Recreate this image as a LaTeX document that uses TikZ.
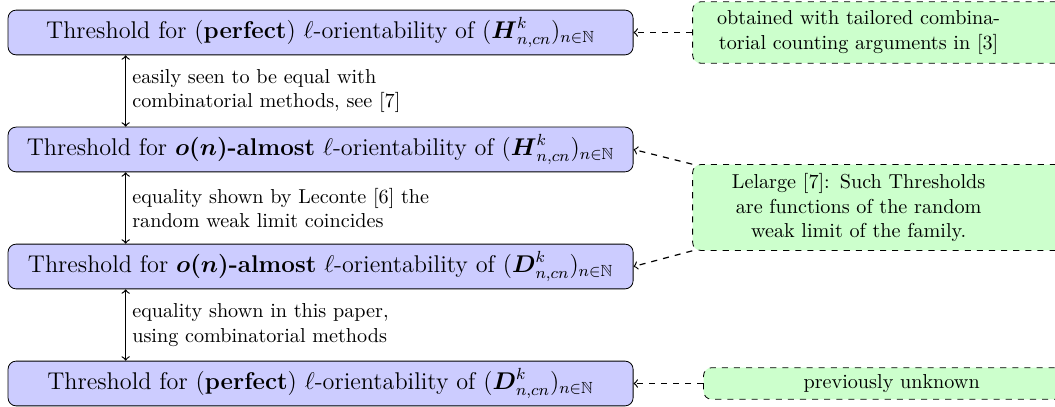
\documentclass[tikz,border=0pt]{standalone}
\usepackage{amsmath}
\usepackage{amssymb}
\usepackage{tikz}
\usetikzlibrary{positioning}

\begin{document}
\begin{tikzpicture}[
  thr/.style={draw, rounded corners=4pt, fill=blue!20, minimum width=10.89cm, minimum height=0.78cm, inner sep=3pt, font=\large},
  note/.style={draw, dashed, rounded corners=4pt, fill=green!20, anchor=west, text width=7.5cm, align=left},
  eq/.style={<->, semithick},
  lnk/.style={->, dashed, semithick},
  eqlab/.style={right, align=left, inner sep=3pt},
]
\useasboundingbox (0,0) rectangle (18.38,-7.09);
\clip (0,0) rectangle (18.38,-7.09);
\def\xb{5.585} \def\xn{12.06}
% threshold boxes
\node[thr] (b1) at (\xb,-0.566) {Threshold for (\textbf{perfect}) $\ell$-orientability of $(\boldsymbol{H}^k_{n,cn})_{n\in\mathbb{N}}$};
\node[thr] (b2) at (\xb,-2.604) {Threshold for $\boldsymbol{o(n)}$\textbf{-almost} $\ell$-orientability of $(\boldsymbol{H}^k_{n,cn})_{n\in\mathbb{N}}$};
\node[thr] (b3) at (\xb,-4.643) {Threshold for $\boldsymbol{o(n)}$\textbf{-almost} $\ell$-orientability of $(\boldsymbol{D}^k_{n,cn})_{n\in\mathbb{N}}$};
\node[thr] (b4) at (\xb,-6.681) {Threshold for (\textbf{perfect}) $\ell$-orientability of $(\boldsymbol{D}^k_{n,cn})_{n\in\mathbb{N}}$};
% notes
\node[note, inner ysep=4.5pt] (n1) at (\xn,-0.566) {\parbox{5.55cm}{\centering obtained with tailored combina-\\torial counting arguments in [3]}};
\node[note, inner ysep=4.5pt] (n2) at (\xn,-3.615) {\parbox{5.55cm}{\centering Lelarge [7]: Such Thresholds\\are functions of the random\\weak limit of the family.}};
\node[note] (n3) at (12.25,-6.681) {\parbox{6.32cm}{\centering previously unknown}};
% equalities
\draw[eq] ([xshift=2.056cm]b1.south west) -- ([xshift=2.056cm]b2.north west) node[eqlab, midway] {easily seen to be equal with\\combinatorial methods, see [7]};
\draw[eq] ([xshift=2.056cm]b2.south west) -- ([xshift=2.056cm]b3.north west) node[eqlab, midway] {equality shown by Leconte [6] the\\random weak limit coincides};
\draw[eq] ([xshift=2.056cm]b3.south west) -- ([xshift=2.056cm]b4.north west) node[eqlab, midway] {equality shown in this paper,\\using combinatorial methods};
% references
\draw[lnk] (n1) -- (b1);
\draw[lnk] (n2.north west) -- (b2.east);
\draw[lnk] (n2.south west) -- (b3.east);
\draw[lnk] (n3) -- (b4);
\end{tikzpicture}
\end{document}
